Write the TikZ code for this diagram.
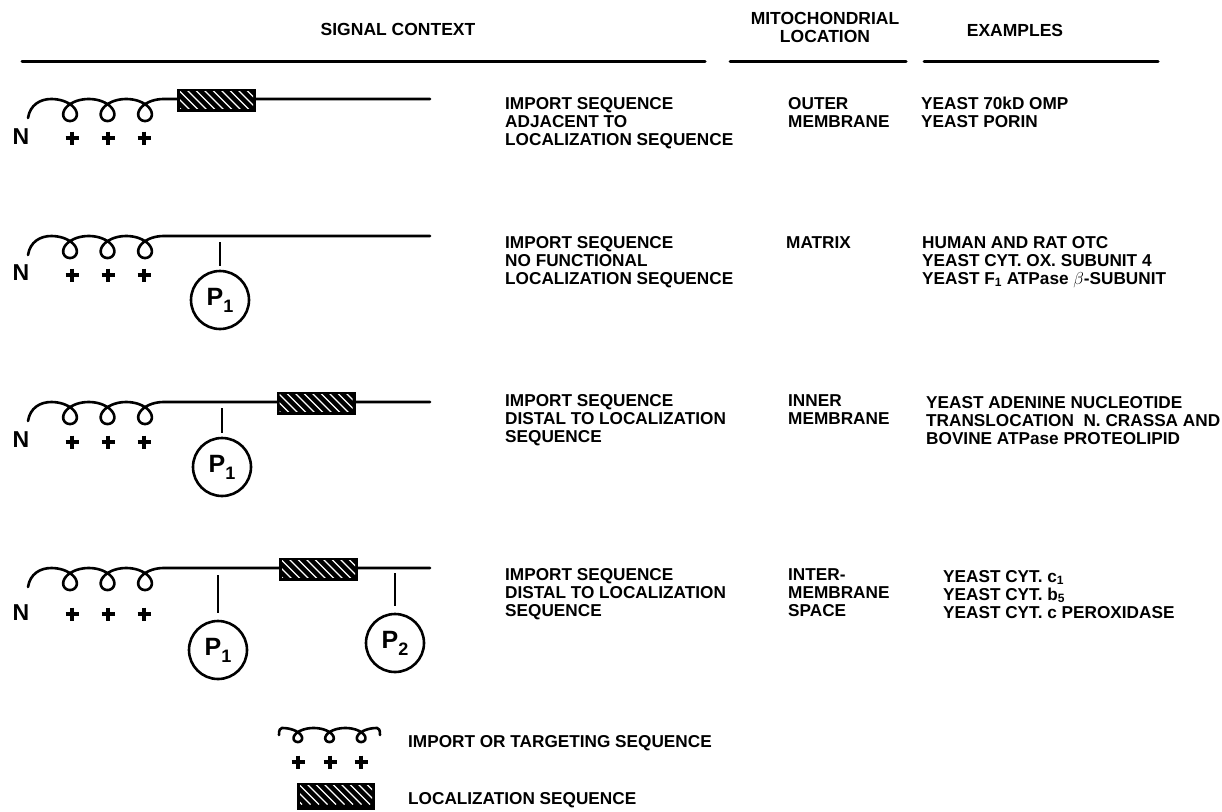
\documentclass[tikz,border=0pt]{standalone}
\usepackage{fontspec}
\setmainfont{Liberation Sans}
\usetikzlibrary{calc}
\tikzset{
  txt/.style={font=\fontsize{17.2}{18}\selectfont\bfseries, inner sep=0pt, anchor=north west, align=left},
  hdr/.style={font=\fontsize{17.5}{18}\selectfont\bfseries, inner sep=0pt, align=center},
  nlab/.style={font=\fontsize{23}{23}\selectfont\bfseries, inner sep=0pt},
  rulerline/.style={line width=3pt, line cap=round},
  chain/.style={line width=2.6pt, line cap=round},
  stick/.style={line width=2.6pt},
  hatchbox/.style={fill=black, minimum width=79pt, minimum height=23pt, inner sep=0pt,
    path picture={
      \clip ($(path picture bounding box.south west)+(3pt,3pt)$) rectangle ($(path picture bounding box.north east)+(-3pt,-3pt)$);
      \foreach \k in {-3,...,10}
        \draw[white, line width=1.3pt] ($(path picture bounding box.north west)+(\k*8.5pt,0pt)$) -- +(22pt,-22pt);
    }},
  pcirc/.style={circle, draw, line width=2.6pt, minimum size=58pt, inner sep=0pt,
    font=\fontsize{25}{25}\selectfont\bfseries},
  coil/.pic={
    \draw[chain] (28,19) .. controls (30,6) and (40,0) .. (51.25,0)
      -- plot[domain=0:18.8496, samples=160, variable=\t]
         ({51.25+5.97*\t+15*sin(\t r)}, {11-11*cos(\t r)})
      -- (430,0);
  },
  legcoil/.pic={
    \draw[chain] (279,735) .. controls (279,730) and (280,728) .. (282,728)
      -- plot[domain=0:18.8496, samples=160, variable=\t]
         ({282+5.04*\t+11*sin(\t r)}, {735-7*cos(\t r)})
      .. controls (379,728) and (380,730) .. (380,735);
  },
  plus/.pic={
    \draw[line width=3.6pt] (-6.5,0) -- (6.5,0) (0,-6.5) -- (0,6.5);
  }
}
\newcommand\Pone{P\raisebox{-7pt}{\fontsize{18}{18}\selectfont 1}}
\newcommand\Ptwo{P\raisebox{-7pt}{\fontsize{18}{18}\selectfont 2}}
\begin{document}
\begin{tikzpicture}[x=1pt,y=-1pt]
\fill[white] (0,0) rectangle (1222,811);
\useasboundingbox (0,0) rectangle (1222,811);

% headers
\node[hdr] (hsig) at (398,29) {SIGNAL CONTEXT};
\node[hdr] (hmito) at (825,27) {MITOCHONDRIAL\\LOCATION};
\node[hdr] (hex) at (1015,30) {EXAMPLES};
\draw[rulerline] (22,61) -- (705,61);
\draw[rulerline] (730,61) -- (906,61);
\draw[rulerline] (924,61) -- (1158,61);

% row 1
\pic at (0,99) {coil};
\node[nlab] (n1) at (21,137) {N};
\pic at (72,138) {plus};
\pic at (108,138) {plus};
\pic at (144,138) {plus};
\node[hatchbox] (b1) at (216.5,100) {};
\node[txt] (d1) at (505,97) {IMPORT SEQUENCE\\ADJACENT TO\\LOCALIZATION SEQUENCE};
\node[txt] (l1) at (788,97) {OUTER\\MEMBRANE};
\node[txt] (e1) at (921,97) {YEAST 70kD OMP\\YEAST PORIN};

% row 2
\pic at (0,236) {coil};
\node[nlab] (n2) at (21,273) {N};
\pic at (72,275) {plus};
\pic at (108,275) {plus};
\pic at (144,275) {plus};
\node[pcirc] (p21) at (220,300) {\Pone};
\coordinate (s21) at (220,242);
\draw[stick] (s21) -- ([yshift=4pt]p21.north);
\node[txt] (d2) at (505,236) {IMPORT SEQUENCE\\NO FUNCTIONAL\\LOCALIZATION SEQUENCE};
\node[txt] (l2) at (786,236) {MATRIX};
\node[txt] (e2) at (922,236) {HUMAN AND RAT OTC\\YEAST CYT. OX. SUBUNIT 4\\YEAST F\textsubscript{1} ATPase $\beta$-SUBUNIT};

% row 3
\pic at (0,402) {coil};
\node[nlab] (n3) at (21,440) {N};
\pic at (72,442) {plus};
\pic at (108,442) {plus};
\pic at (144,442) {plus};
\node[hatchbox] (b3) at (316,403) {};
\node[pcirc] (p31) at (222,467) {\Pone};
\coordinate (s31) at (222,408);
\draw[stick] (s31) -- ([yshift=4pt]p31.north);
\node[txt] (d3) at (505,394) {IMPORT SEQUENCE\\DISTAL TO LOCALIZATION\\SEQUENCE};
\node[txt] (l3) at (788,394) {INNER\\MEMBRANE};
\node[txt] (e3) at (926,396) {YEAST ADENINE NUCLEOTIDE\\TRANSLOCATION\ \ N. CRASSA AND\\BOVINE ATPase PROTEOLIPID};

% row 4
\pic at (0,568) {coil};
\node[nlab] (n4) at (21,613) {N};
\pic at (72,614) {plus};
\pic at (108,614) {plus};
\pic at (144,614) {plus};
\node[hatchbox] (b4) at (318.5,569) {};
\node[pcirc] (p41) at (218,650) {\Pone};
\coordinate (s41) at (218,575);
\draw[stick] (s41) -- ([yshift=7pt]p41.north);
\node[pcirc] (p42) at (395,643) {\Ptwo};
\coordinate (s42) at (395,573);
\draw[stick] (s42) -- ([yshift=7pt]p42.north);
\node[txt] (d4) at (505,568) {IMPORT SEQUENCE\\DISTAL TO LOCALIZATION\\SEQUENCE};
\node[txt] (l4) at (788,568) {INTER-\\MEMBRANE\\SPACE};
\node[txt] (e4) at (943,570) {YEAST CYT. c\textsubscript{1}\\YEAST CYT. b\textsubscript{5}\\YEAST CYT. c PEROXIDASE};

% legend
\pic at (0,0) {legcoil};
\pic at (298,762) {plus};
\pic at (330,762) {plus};
\pic at (361,762) {plus};
\node[txt, anchor=west] (lg1) at (408,743) {IMPORT OR TARGETING SEQUENCE};
\node[hatchbox, minimum width=78pt, minimum height=27pt] (lgb) at (336,796) {};
\node[txt, anchor=west] (lg2) at (408,800) {LOCALIZATION SEQUENCE};
\end{tikzpicture}
\end{document}
